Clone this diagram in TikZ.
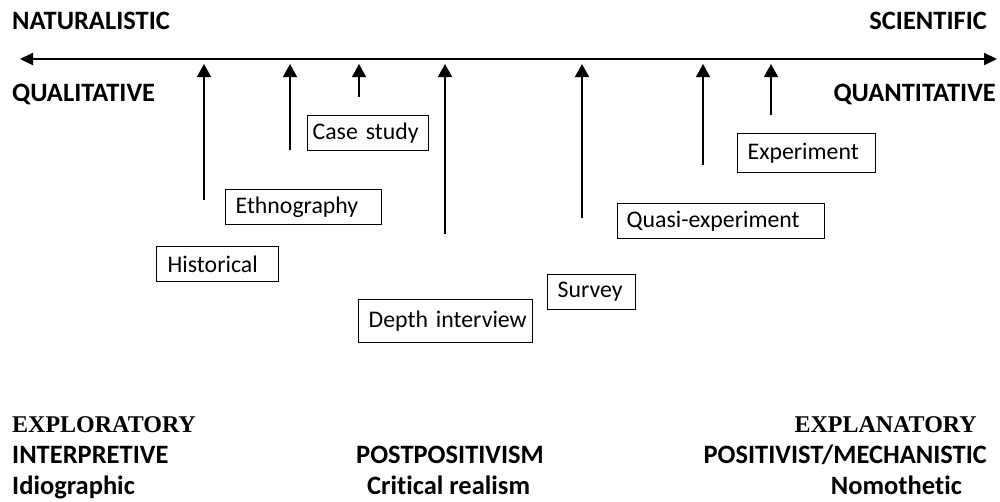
\documentclass[tikz,border=0pt]{standalone}
\usepackage{fontspec}
\setmainfont{Carlito}[Ligatures=NoCommon]
\newfontfamily\tms{Liberation Serif}
\usetikzlibrary{arrows.meta}
\begin{document}
\begin{tikzpicture}[x=1pt,y=-1pt,
  box/.style={draw, line width=1.3pt, inner ysep=0pt, align=left, anchor=north west,
    font=\fontsize{23.8}{26}\selectfont},
  lab/.style={inner sep=0pt, font=\fontsize{26.5}{30}\selectfont\bfseries},
  tlab/.style={inner sep=0pt, font=\fontsize{24}{28}\selectfont\tms\bfseries},
  up/.style={line width=1.5pt, -{Triangle[length=13pt,width=14pt]}},
  axis/.style={line width=2pt, {Triangle[length=13pt,width=12pt]}-{Triangle[length=13pt,width=12pt]}}]
\useasboundingbox (0,0) rectangle (1000,501);
% axis
\coordinate (axL) at (20,59);
\coordinate (axR) at (997,59);
\draw[axis] (axL) -- (axR);
% top labels
\node[lab, anchor=base west] (nat) at (12,29) {NATURALISTIC};
\node[lab, anchor=base east] (sci) at (987,29) {SCIENTIFIC};
\node[lab, anchor=base west] (qual) at (12,101) {QUALITATIVE};
\node[lab, anchor=base east] (quan) at (996,101) {QUANTITATIVE};
% boxes
\node[box, inner xsep=5pt, text width=111pt, minimum height=35pt] (case) at (307,115) {\mbox{Case study}};
\node[box, inner xsep=10pt, text width=136pt, minimum height=35pt] (eth) at (225,189) {\mbox{Ethnography}};
\node[box, inner xsep=11pt, text width=100pt, minimum height=35pt] (hist) at (156,246) {\mbox{Historical}};
\node[box, inner xsep=10pt, text width=154pt, minimum height=43pt] (depth) at (358,299) {\mbox{Depth interview}};
\node[box, inner xsep=10pt, text width=68pt, minimum height=35pt] (surv) at (547,274) {\mbox{Survey}};
\node[box, inner xsep=9pt, text width=189pt, minimum height=35pt] (quasi) at (617,203) {\mbox{Quasi-experiment}};
\node[box, inner xsep=10pt, text width=118pt, minimum height=39pt] (exp) at (737,133) {\mbox{Experiment}};
% arrows
\foreach \n/\x/\y in {a1/204/200, a2/290/150, a3/359/97, a4/445/234, a5/582/218, a6/703/165, a7/771/115}{
  \coordinate (\n b) at (\x,\y);
  \coordinate (\n t) at (\x,64);
  \draw[up] (\n b) -- (\n t);
}
% bottom labels
\node[tlab, anchor=base west] (explo) at (12,432.7) {EXPLORATORY};
\node[tlab, anchor=base east] (expla) at (977,432.7) {EXPLANATORY};
\node[lab, anchor=base west] (interp) at (12,463) {INTERPRETIVE};
\node[lab, anchor=base west] (postp) at (356,463) {POSTPOSITIVISM};
\node[lab, anchor=base east] (posit) at (987,463) {POSITIVIST/MECHANISTIC};
\node[lab, anchor=base west] (idio) at (12,494) {Idiographic};
\node[lab, anchor=base west] (crit) at (367,494) {Critical realism};
\node[lab, anchor=base east] (nomo) at (962,494) {Nomothetic};
\end{tikzpicture}
\end{document}
